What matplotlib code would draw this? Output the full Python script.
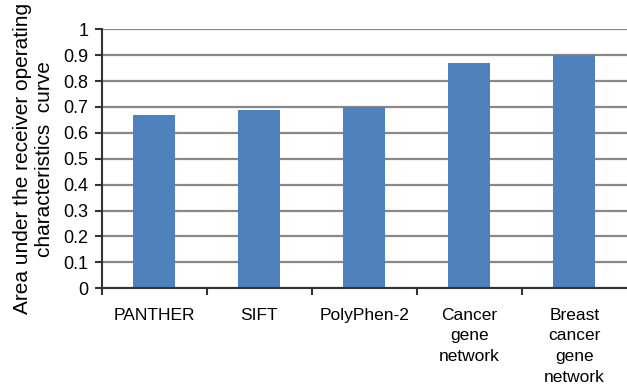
import matplotlib.pyplot as plt
import numpy as np

plt.rcParams['font.family'] = ['Liberation Sans', 'DejaVu Sans']

# AUC for each predictor
methods = ['PANTHER', 'SIFT', 'PolyPhen-2', 'Cancer\ngene\nnetwork',
           'Breast\ncancer\ngene\nnetwork']
auc = [0.67, 0.69, 0.70, 0.87, 0.90]
yticks = np.round(np.arange(0, 1.01, 0.1), 1)
ytick_labels = ['0', '0.1', '0.2', '0.3', '0.4', '0.5', '0.6', '0.7', '0.8', '0.9', '1']

fig = plt.figure(figsize=(6.27, 3.88), dpi=100)
ax = fig.add_axes([0.162, 0.257, 0.838, 0.6675])

x = np.arange(len(methods))
ax.bar(x, auc, width=0.4, color='#4F81BD', zorder=3)

ax.set_xlim(-0.5, len(methods) - 0.5)
ax.set_ylim(0, 1)
ax.set_yticks(yticks)
ax.set_yticklabels(ytick_labels, fontsize=13)
ax.yaxis.grid(True, color='#888888', linewidth=1.6, zorder=0)

# category labels between boundary ticks
ax.set_xticks(np.arange(-0.5, len(methods) - 0.5, 1.0))
ax.set_xticklabels([])
ax.set_xticks(x, minor=True)
ax.set_xticklabels(methods, minor=True, fontsize=12.5, linespacing=1.48, va='top')
ax.tick_params(axis='x', which='minor', length=0, pad=14)
ax.tick_params(axis='x', which='major', length=5, width=1.5, color='#333333')
ax.tick_params(axis='y', length=5, width=1.5, color='#333333', pad=4.5)

for side in ['top', 'right']:
    ax.spines[side].set_visible(False)
for side in ['left', 'bottom']:
    ax.spines[side].set_color('#333333')
    ax.spines[side].set_linewidth(1.5)
    ax.spines[side].set_zorder(4)

ax.set_ylabel('Area under the receiver operating\ncharacteristics  curve',
              fontsize=15, linespacing=1.15, labelpad=7)

fig.savefig('out.png', dpi=100)
